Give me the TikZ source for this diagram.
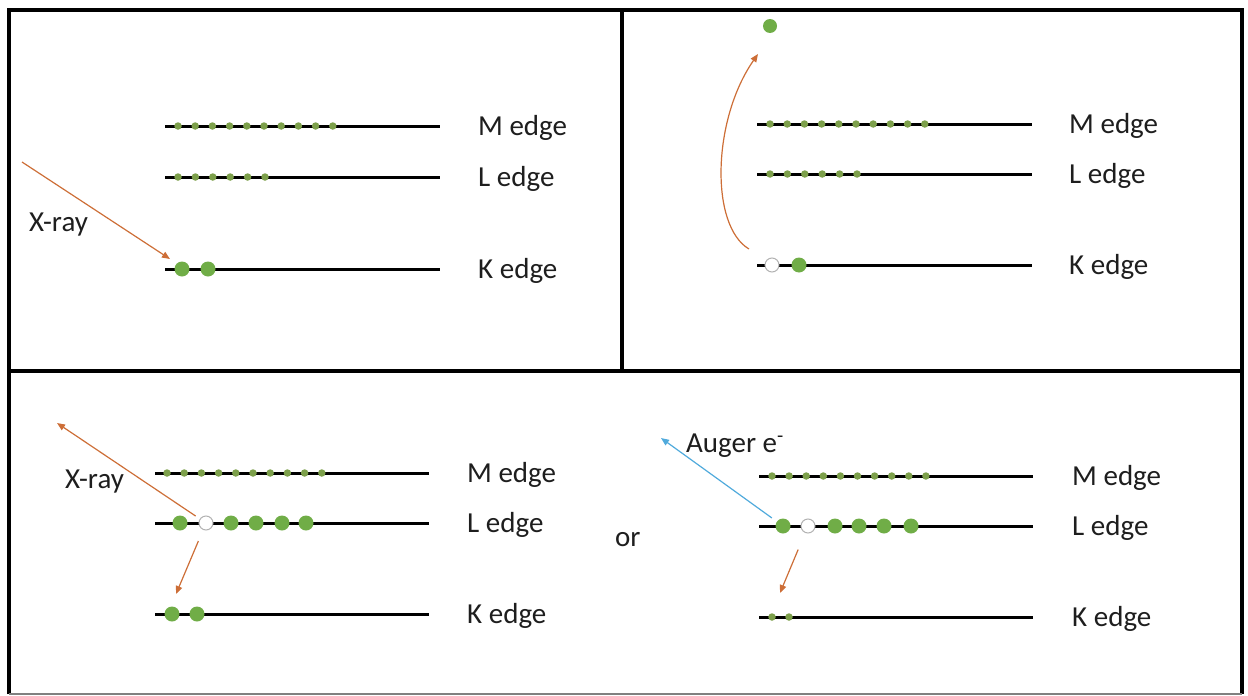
\documentclass[tikz,border=0pt]{standalone}
\usepackage{fontspec}
\setmainfont{Carlito}
\usetikzlibrary{arrows.meta}
\definecolor{dotgreen}{RGB}{112,173,71}
\definecolor{smallgreen}{RGB}{125,160,75}
\definecolor{arroworange}{RGB}{205,110,55}
\definecolor{augerblue}{RGB}{80,170,220}
\definecolor{txt}{RGB}{30,30,30}
\begin{document}
\begin{tikzpicture}[x=1pt,y=-1pt,
  level/.style={line width=3pt},
  bigdot/.style={circle,fill=dotgreen,inner sep=0pt,minimum size=15pt},
  smalldot/.style={circle,fill=smallgreen,inner sep=0pt,minimum size=7.5pt},
  hole/.style={circle,draw=gray!60,fill=white,line width=1pt,inner sep=0pt,minimum size=14pt},
  lbl/.style={anchor=base west,inner sep=0pt,text=txt,font=\fontsize{29}{34}\selectfont},
  ray/.style={draw=arroworange,line width=1.2pt,-{Triangle[length=8pt,width=6.5pt]}},
  bluray/.style={draw=augerblue,line width=1.2pt,-{Triangle[length=8pt,width=6.5pt]}},
  frameline/.style={line width=3.2pt}]

\useasboundingbox (0,0) rectangle (1248,696);

% frame
\draw[frameline] (9,694) -- (9,10) -- (1242,10) -- (1242,694);
\draw[frameline] (9,371) -- (1242,371);
\draw[frameline] (622,10) -- (622,371);
\draw[gray,line width=1.5pt] (9,694) -- (1242,694);

% ---------- Panel A (top left) ----------
\coordinate (aMs) at (165,126); \coordinate (aMe) at (440,126);
\coordinate (aLs) at (165,177); \coordinate (aLe) at (440,177);
\coordinate (aKs) at (165,269); \coordinate (aKe) at (440,269);
\draw[level] (aMs) -- (aMe);
\draw[level] (aLs) -- (aLe);
\draw[level] (aKs) -- (aKe);
\foreach \i in {0,...,9} \node[smalldot] (aM\i) at ({178+17.2*\i},126) {};
\foreach \i in {0,...,5} \node[smalldot] (aL\i) at ({178+17.4*\i},177) {};
\node[bigdot] (aK0) at (182,269) {};
\node[bigdot] (aK1) at (208,269) {};
\node[lbl] (aMl) at (478,135) {M edge};
\node[lbl] (aLl) at (478,186) {L edge};
\node[lbl] (aKl) at (478,278) {K edge};
\node[lbl] (aX) at (29,231) {X-ray};
\coordinate (aXs) at (22,162);
\coordinate (aXt) at (170,259);
\draw[ray] (aXs) -- (aXt);

% ---------- Panel B (top right) ----------
\coordinate (bMs) at (757,124); \coordinate (bMe) at (1032,124);
\coordinate (bLs) at (757,174); \coordinate (bLe) at (1032,174);
\coordinate (bKs) at (757,265); \coordinate (bKe) at (1032,265);
\draw[level] (bMs) -- (bMe);
\draw[level] (bLs) -- (bLe);
\draw[level] (bKs) -- (bKe);
\foreach \i in {0,...,9} \node[smalldot] (bM\i) at ({770+17.2*\i},124) {};
\foreach \i in {0,...,5} \node[smalldot] (bL\i) at ({770+17.4*\i},174) {};
\node[hole] (bKh) at (772,265) {};
\node[bigdot] (bK1) at (799,265) {};
\node[bigdot,minimum size=14pt] (bF) at (770,26) {};
\node[lbl] (bMl) at (1069,133) {M edge};
\node[lbl] (bLl) at (1069,183) {L edge};
\node[lbl] (bKl) at (1069,274) {K edge};
\coordinate (bCs) at (749,249);
\coordinate (bCt) at (758,54);
\draw[ray] (bCs) .. controls (710,226) and (712,120) .. (bCt);

% ---------- Panel C (bottom left) ----------
\coordinate (cMs) at (155,473); \coordinate (cMe) at (429,473);
\coordinate (cLs) at (155,523); \coordinate (cLe) at (429,523);
\coordinate (cKs) at (155,614); \coordinate (cKe) at (429,614);
\draw[level] (cMs) -- (cMe);
\draw[level] (cLs) -- (cLe);
\draw[level] (cKs) -- (cKe);
\foreach \i in {0,...,9} \node[smalldot] (cM\i) at ({167+17.2*\i},473) {};
\node[bigdot] (cL0) at (180,523) {};
\node[hole] (cLh) at (206,523) {};
\node[bigdot] (cL2) at (231,523) {};
\node[bigdot] (cL3) at (256,523) {};
\node[bigdot] (cL4) at (282,523) {};
\node[bigdot] (cL5) at (306,523) {};
\node[bigdot] (cK0) at (172,614) {};
\node[bigdot] (cK1) at (197,614) {};
\node[lbl] (cMl) at (467,482) {M edge};
\node[lbl] (cLl) at (467,532) {L edge};
\node[lbl] (cKl) at (467,623) {K edge};
\node[lbl] (cX) at (65,488) {X-ray};
\coordinate (cXt) at (57,423);
\coordinate (cDt) at (176,594);
\draw[ray,shorten <=5pt] (cLh) -- (cXt);
\draw[ray,shorten <=12pt] (cLh) -- (cDt);

\node[lbl] (orl) at (615,546) {or};

% ---------- Panel D (bottom right) ----------
\coordinate (dMs) at (759,476); \coordinate (dMe) at (1033,476);
\coordinate (dLs) at (759,526); \coordinate (dLe) at (1033,526);
\coordinate (dKs) at (759,617); \coordinate (dKe) at (1033,617);
\draw[level] (dMs) -- (dMe);
\draw[level] (dLs) -- (dLe);
\draw[level] (dKs) -- (dKe);
\foreach \i in {0,...,9} \node[smalldot] (dM\i) at ({772+17.1*\i},476) {};
\node[bigdot] (dL0) at (783,526) {};
\node[hole] (dLh) at (808,526) {};
\node[bigdot] (dL2) at (835,526) {};
\node[bigdot] (dL3) at (859,526) {};
\node[bigdot] (dL4) at (884,526) {};
\node[bigdot] (dL5) at (911,526) {};
\node[smalldot] (dK0) at (772,617) {};
\node[smalldot] (dK1) at (789,617) {};
\node[lbl] (dMl) at (1072,485) {M edge};
\node[lbl] (dLl) at (1072,535) {L edge};
\node[lbl] (dKl) at (1072,626) {K edge};
\node[lbl] (dAug) at (686,452) {Auger e\textsuperscript{-}};
\coordinate (dAt) at (661,438);
\coordinate (dDt) at (780,593);
\draw[bluray,shorten <=6pt] (dL0) -- (dAt);
\draw[ray,shorten <=18pt] (dLh) -- (dDt);
\end{tikzpicture}
\end{document}
